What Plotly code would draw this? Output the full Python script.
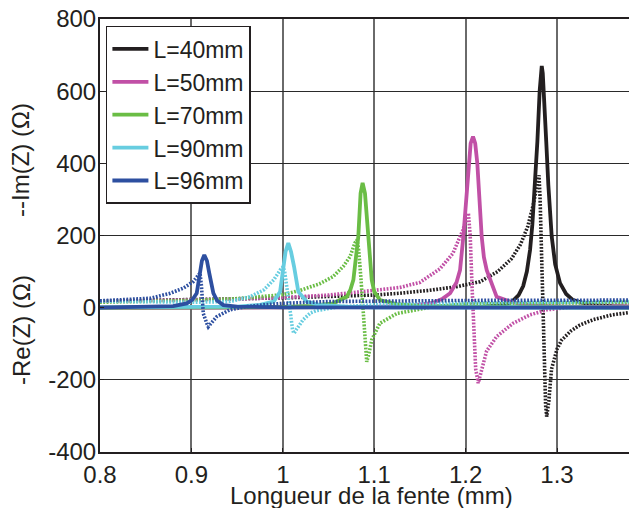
import plotly.graph_objects as go

# ---------------- data ----------------
names = ["L=40mm", "L=50mm", "L=70mm", "L=90mm", "L=96mm"]
colors = ["#231f20", "#c150a6", "#6abd45", "#67cde0", "#2d4fa0"]

x_ticks = [0.8, 0.9, 1.0, 1.1, 1.2, 1.3]
x_ticktext = ["0.8", "0.9", "1", "1.1", "1.2", "1.3"]
y_ticks = [-400, -200, 0, 200, 400, 600, 800]
y_ticktext = ["-400", "-200", "0", "200", "400", "600", "800"]

# L = 40 mm
x40_re = [0.80, 1.00, 1.18, 1.22, 1.24, 1.25, 1.258, 1.263, 1.267, 1.2705, 1.273, 1.276,
          1.2785, 1.281, 1.2822, 1.2833, 1.2844, 1.2856, 1.2882, 1.2905, 1.2942, 1.298,
          1.3033, 1.31, 1.3175, 1.33, 1.343, 1.36, 1.39]
y40_re = [0, 0.5, 1, 3, 7, 15, 35, 60, 100, 160, 230, 340,
          460, 600, 650, 670, 650, 600, 460, 340, 197, 120,
          68, 38, 21, 12, 7, 4, 2]
x40_im = [0.80, 0.90, 1.00, 1.05, 1.10, 1.128, 1.16, 1.19, 1.2158, 1.235, 1.25, 1.26, 1.268,
          1.274, 1.278, 1.2803, 1.2815, 1.283, 1.2845, 1.286, 1.2875, 1.2887, 1.291, 1.294,
          1.30, 1.305, 1.315, 1.325, 1.34, 1.36, 1.39]
y40_im = [18, 22, 27, 31, 35, 40, 48, 58, 72, 100, 135, 175, 225,
          285, 335, 367, 300, 150, -20, -170, -270, -302, -260, -170,
          -115, -90, -65, -48, -33, -20, -10]

# L = 50 mm
x50_re = [0.80, 1.00, 1.10, 1.14, 1.164, 1.175, 1.183, 1.19, 1.1939, 1.1975, 1.2, 1.2029,
          1.2055, 1.2081, 1.2105, 1.2128, 1.2155, 1.2176, 1.22, 1.2231, 1.234, 1.2486,
          1.26, 1.28, 1.31, 1.39]
y50_re = [0, 1, 2, 5, 13, 25, 40, 70, 104, 197, 280, 400,
          455, 474, 455, 400, 270, 197, 140, 104, 30, 17,
          10, 5, 3, 1]
x50_im = [0.80, 0.85, 0.90, 0.95, 1.00, 1.05, 1.10, 1.128, 1.15, 1.172, 1.186, 1.197, 1.203,
          1.205, 1.207, 1.209, 1.211, 1.2138, 1.2165, 1.223, 1.234, 1.252, 1.2705, 1.289,
          1.31, 1.34, 1.39]
y50_im = [17, 19, 21, 24, 28, 35, 48, 56, 70, 108, 150, 215, 262,
          200, 60, -80, -170, -209, -185, -120, -80, -43, -20, -6,
          0, 6, 10]

# L = 70 mm
x70_re = [0.80, 0.98, 1.00, 1.03, 1.055, 1.07, 1.074, 1.0772, 1.08, 1.0826, 1.0851, 1.0873,
          1.0899, 1.0936, 1.0955, 1.0973, 1.10, 1.1063, 1.1246, 1.15, 1.20, 1.39]
y70_re = [0, 1, 2, 5, 12, 30, 50, 77, 130, 197, 317, 346,
          317, 197, 130, 77, 45, 21, 10, 5, 2, 0]
x70_im = [0.80, 0.85, 0.90, 0.95, 1.00, 1.019, 1.04, 1.055, 1.066, 1.0735, 1.079, 1.0812,
          1.083, 1.0855, 1.088, 1.09, 1.0918, 1.094, 1.0973, 1.1063, 1.125, 1.1465, 1.164,
          1.20, 1.30, 1.39]
y70_im = [15, 17, 20, 25, 36, 48, 66, 86, 114, 141, 180, 188,
          160, 80, -6, -108, -150, -130, -89, -43, -16, -6, 3,
          10, 14, 15]

# L = 90 mm
x90_re = [0.80, 0.90, 0.95, 0.975, 0.99, 0.997, 1.0006, 1.003, 1.006, 1.009, 1.0123, 1.017,
          1.026, 1.04, 1.07, 1.10, 1.39]
y90_re = [1, 1, 3, 8, 17, 44, 114, 155, 179, 155, 114, 44,
          17, 8, 3, 1, 0]
x90_im = [0.80, 0.85, 0.90, 0.942, 0.964, 0.979, 0.99, 0.997, 1.0002, 1.002, 1.005, 1.0079,
          1.0107, 1.0123, 1.015, 1.022, 1.03, 1.037, 1.06, 1.10, 1.20, 1.30, 1.39]
y90_im = [18, 17, 15, 17, 30, 49, 77, 104, 113, 100, 50, -6,
          -62, -71, -60, -34, -15, -8, 2, 8, 13, 16, 17]

# L = 96 mm
x96_re = [0.80, 0.85, 0.88, 0.895, 0.901, 0.9058, 0.9094, 0.9115, 0.9141, 0.917, 0.9196,
          0.924, 0.928, 0.935, 0.95, 1.00, 1.39]
y96_re = [0, 1, 4, 12, 22, 40, 95, 130, 146, 130, 95,
          40, 20, 7, 3, 1, 0]
x96_im = [0.80, 0.83, 0.855, 0.877, 0.891, 0.902, 0.9075, 0.9094, 0.911, 0.913, 0.9167,
          0.9185, 0.921, 0.9277, 0.942, 0.96, 0.98, 1.00, 1.05, 1.20, 1.39]
y96_im = [19, 22, 26, 40, 54, 72, 90, 96, 60, -16, -43,
          -53, -45, -25, -6, 3, 8, 12, 17, 20, 21]

# ---------------- figure ----------------
series = [
    (x40_re, y40_re, x40_im, y40_im),
    (x50_re, y50_re, x50_im, y50_im),
    (x70_re, y70_re, x70_im, y70_im),
    (x90_re, y90_re, x90_im, y90_im),
    (x96_re, y96_re, x96_im, y96_im),
]

FONT = "Liberation Sans, Arial, sans-serif"
TXT = "#231f20"

fig = go.Figure()
for name, color, (xr, yr, xi, yi) in zip(names, colors, series):
    fig.add_trace(go.Scatter(
        x=xi, y=yi, mode="lines", showlegend=False, hoverinfo="skip",
        line=dict(color=color, width=3.6, dash="1.8px,1.5px"),
    ))
    fig.add_trace(go.Scatter(
        x=xr, y=yr, mode="lines", name=name,
        line=dict(color=color, width=3.8),
    ))

# the page body has an 8px margin, so the figure is 8px smaller and shifted
fig.update_layout(
    width=629, height=500,
    margin=dict(l=92, r=0, t=11, b=56, autoexpand=False),
    paper_bgcolor="white", plot_bgcolor="white",
    font=dict(family=FONT, size=24, color=TXT),
    showlegend=True,
    legend=dict(
        x=0.011, y=0.984, xanchor="left", yanchor="top",
        bgcolor="white", bordercolor=TXT, borderwidth=1.5,
        font=dict(family=FONT, size=23, color=TXT),
        itemwidth=36, tracegroupgap=0,
    ),
    xaxis=dict(
        range=[0.8, 1.3875], tickmode="array", tickvals=x_ticks, ticktext=x_ticktext,
        showgrid=True, gridcolor="#6a6a6a", gridwidth=1.5, zeroline=False,
        showline=True, linecolor=TXT, linewidth=2, mirror=True,
        ticks="inside", ticklen=4, tickcolor=TXT, automargin=False,
        ticklabeloverflow="allow",
        tickfont=dict(family=FONT, size=24, color=TXT),
    ),
    yaxis=dict(
        range=[-400, 800], tickmode="array", tickvals=y_ticks, ticktext=y_ticktext,
        showgrid=True, gridcolor="#2a2a2a", gridwidth=1.2, zeroline=False,
        showline=True, linecolor=TXT, linewidth=2, mirror=False,
        ticks="inside", ticklen=4, tickcolor=TXT, automargin=False,
        ticklabeloverflow="allow", ticklabelstandoff=-3,
        tickfont=dict(family=FONT, size=24, color=TXT),
    ),
    annotations=[
        dict(text="--Im(Z) (\u03a9)", xref="paper", yref="paper",
             x=(21 - 100) / 537, y=1 - (160 - 19) / 433, textangle=-90,
             showarrow=False, xanchor="center", yanchor="middle",
             font=dict(family=FONT, size=24, color=TXT)),
        dict(text="-Re(Z) (\u03a9)", xref="paper", yref="paper",
             x=(21 - 100) / 537, y=1 - (330 - 19) / 433, textangle=-90,
             showarrow=False, xanchor="center", yanchor="middle",
             font=dict(family=FONT, size=24, color=TXT)),
        dict(text="Longueur de la fente (mm)", xref="paper", yref="paper",
             x=(371 - 100) / 537, y=1 - (496 - 19) / 433,
             showarrow=False, xanchor="center", yanchor="middle",
             font=dict(family=FONT, size=24, color=TXT)),
    ],
)

fig.write_html("out.html")
